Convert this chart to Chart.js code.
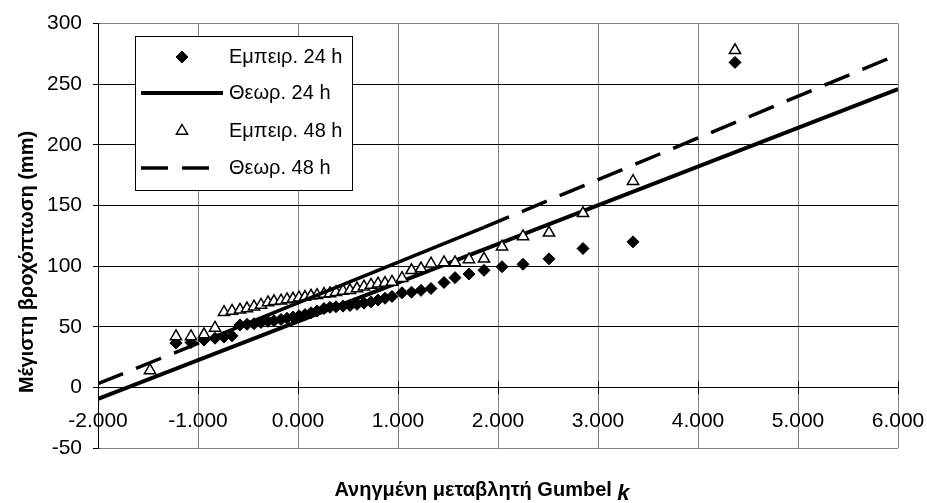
<!DOCTYPE html>
<html>
<head>
<meta charset="utf-8">
<script src="https://cdn.jsdelivr.net/npm/chart.js@4/dist/chart.umd.min.js"></script>
<style>
  body { margin: 0; background: #fff; }
</style>
</head>
<body>
<canvas id="gumbel" width="927" height="503"></canvas>
<script>
// Gumbel reduced variate k for each ranked year
const kValues = [-1.48, -1.22, -1.07, -0.94, -0.83, -0.74, -0.66, -0.58, -0.51, -0.44,
  -0.37, -0.30, -0.24, -0.17, -0.11, -0.05, 0.01, 0.07, 0.13, 0.19,
  0.26, 0.32, 0.38, 0.45, 0.52, 0.59, 0.66, 0.73, 0.80, 0.87,
  0.94, 1.04, 1.135, 1.23, 1.33, 1.46, 1.57, 1.71, 1.86, 2.04,
  2.25, 2.51, 2.85, 3.35, 4.37];

// annual maximum rainfall (mm), sorted
const rain24 = [null, 36.5, 37, 39, 40.5, 41.5, 42.5, 51.5, 52, 52.5,
  53.5, 54.5, 55, 56, 57, 58, 59, 60, 61.5, 63,
  65, 66, 66.5, 67, 67.5, 68.5, 69.5, 70.5, 72, 73.5,
  75, 78, 78.5, 80, 81.5, 86.5, 90.5, 93.5, 96.5, 99.5,
  101.5, 106, 114.5, 120, 268];
const rain48 = [14, 42, 42, 43.5, 49, 62, 63, 64, 65, 66.5,
  68, 70, 71, 71.5, 72.5, 73, 74, 74.5, 75.5, 76,
  77, 77.5, 78.5, 79.5, 80, 81.5, 83, 84.5, 85.5, 86,
  87, 90, 96.5, 98, 102, 103, 103, 105.5, 106, 116,
  124.5, 127.5, 143.5, 170, 278];

// fitted Gumbel lines
const fitK24 = [-2, 6];
const fit24 = [-9.5, 246];
const fitK48 = [-2, -0.74, 1.86, 6];
const fit48 = [3, 45, 132, 274.5];

const FONT = "'Liberation Sans', Arial, sans-serif";
const toPoints = (xs, ys) => xs.map((x, i) => ({ x: x, y: ys[i] }));

function drawMarker(ctx, style, x, y, r) {
  ctx.beginPath();
  if (style === "rectRot") {
    ctx.moveTo(x, y - r);
    ctx.lineTo(x + r, y);
    ctx.lineTo(x, y + r);
    ctx.lineTo(x - r, y);
  } else {
    ctx.moveTo(x, y - r);
    ctx.lineTo(x + r * 0.866, y + r / 2);
    ctx.lineTo(x - r * 0.866, y + r / 2);
  }
  ctx.closePath();
}

// tick marks above the k axis, titles and the boxed legend inside the plot
const decorations = {
  id: "decorations",
  afterDraw(chart) {
    const ctx = chart.ctx;
    const xs = chart.scales.x;
    const y0 = Math.round(chart.scales.y.getPixelForValue(0)) + 0.5;
    ctx.save();
    ctx.strokeStyle = "#000";
    ctx.lineWidth = 1;
    xs.ticks.forEach((t) => {
      const px = Math.round(xs.getPixelForValue(t.value)) + 0.5;
      ctx.beginPath();
      ctx.moveTo(px, y0 - 6);
      ctx.lineTo(px, y0);
      ctx.stroke();
    });

    ctx.fillStyle = "#000";
    ctx.save();
    ctx.translate(27, 262);
    ctx.rotate(-Math.PI / 2);
    ctx.font = "bold 20px " + FONT;
    ctx.textAlign = "center";
    ctx.textBaseline = "middle";
    ctx.fillText("Μέγιστη βροχόπτωση (mm)", 0, 0);
    ctx.restore();

    const main = "Ανηγμένη μεταβλητή Gumbel ";
    ctx.font = "bold 20px " + FONT;
    const w1 = ctx.measureText(main).width;
    ctx.font = "italic bold 22px " + FONT;
    const w2 = ctx.measureText("k").width;
    const x0 = 482 - (w1 + w2) / 2;
    ctx.textBaseline = "middle";
    ctx.textAlign = "left";
    ctx.font = "bold 20px " + FONT;
    ctx.fillText(main, x0, 490);
    ctx.font = "italic bold 22px " + FONT;
    ctx.fillText("k", x0 + w1, 494);

    // legend
    ctx.fillStyle = "#fff";
    ctx.fillRect(135, 36, 217, 154);
    ctx.strokeStyle = "#000";
    ctx.lineWidth = 1;
    ctx.strokeRect(135.5, 36.5, 217, 154);
    const rows = [57, 93, 131, 168];
    chart.data.datasets.forEach((ds, i) => {
      const y = rows[i];
      if (ds.showLine === false) {
        drawMarker(ctx, ds.pointStyle, 182, y, ds.pointRadius);
        ctx.fillStyle = ds.pointBackgroundColor;
        ctx.fill();
        ctx.lineWidth = ds.pointBorderWidth;
        ctx.strokeStyle = ds.pointBorderColor;
        ctx.setLineDash([]);
        ctx.stroke();
      } else {
        ctx.beginPath();
        ctx.strokeStyle = ds.borderColor;
        ctx.lineWidth = ds.borderWidth;
        ctx.setLineDash(ds.borderDash || []);
        ctx.moveTo(141, y);
        ctx.lineTo(223, y);
        ctx.stroke();
        ctx.setLineDash([]);
      }
      ctx.fillStyle = "#000";
      ctx.font = "20px " + FONT;
      ctx.textAlign = "left";
      ctx.textBaseline = "middle";
      ctx.fillText(ds.label, 229, y);
    });
    ctx.restore();
  }
};

new Chart(document.getElementById("gumbel"), {
  type: "line",
  data: {
    datasets: [
      {
        label: "Εμπειρ. 24 h",
        data: toPoints(kValues, rain24),
        showLine: false,
        pointStyle: "rectRot",
        pointRadius: 6,
        pointBackgroundColor: "#000",
        pointBorderColor: "#000",
        pointBorderWidth: 1,
        order: 4
      },
      {
        label: "Θεωρ. 24 h",
        data: toPoints(fitK24, fit24),
        borderColor: "#000",
        borderWidth: 4,
        pointRadius: 0,
        order: 3
      },
      {
        label: "Εμπειρ. 48 h",
        data: toPoints(kValues, rain48),
        showLine: false,
        pointStyle: "triangle",
        pointRadius: 6.5,
        pointBackgroundColor: "#fff",
        pointBorderColor: "#000",
        pointBorderWidth: 1.5,
        order: 2
      },
      {
        label: "Θεωρ. 48 h",
        data: toPoints(fitK48, fit48),
        borderColor: "#000",
        borderWidth: 3.5,
        borderDash: [27, 14],
        pointRadius: 0,
        order: 1,
        // the crowded middle part reads as a continuous stroke
        segment: {
          borderDash: (ctx) => (ctx.p0DataIndex === 1 ? [] : [27, 14])
        }
      }
    ]
  },
  options: {
    responsive: false,
    animation: false,
    devicePixelRatio: 1,
    layout: { padding: { left: 0, top: 22, right: 29, bottom: 55 } },
    plugins: {
      legend: { display: false },
      tooltip: { enabled: false }
    },
    scales: {
      x: {
        type: "linear",
        min: -2,
        max: 6,
        position: { y: 0 },
        ticks: {
          stepSize: 1,
          autoSkip: false,
          maxRotation: 0,
          padding: 15,
          color: "#000",
          font: { family: FONT, size: 21 },
          callback: (v) => v.toFixed(3)
        },
        grid: { color: "#808080", tickColor: "#000", tickLength: 6 },
        border: { color: "#000", width: 1 },
        afterFit: (scale) => {
          scale.paddingLeft = 0;
          scale.paddingRight = 0;
        }
      },
      y: {
        min: -50,
        max: 300,
        ticks: {
          stepSize: 50,
          padding: 11,
          color: "#000",
          font: { family: FONT, size: 21 }
        },
        grid: {
          color: (ctx) => (ctx.tick && (ctx.tick.value === 300 || ctx.tick.value === -50) ? "#808080" : "#000"),
          tickColor: "#000",
          tickLength: 5
        },
        border: { color: "#000", width: 1 },
        afterFit: (scale) => { scale.width = 98; }
      }
    }
  },
  plugins: [decorations]
});
</script>
</body>
</html>
